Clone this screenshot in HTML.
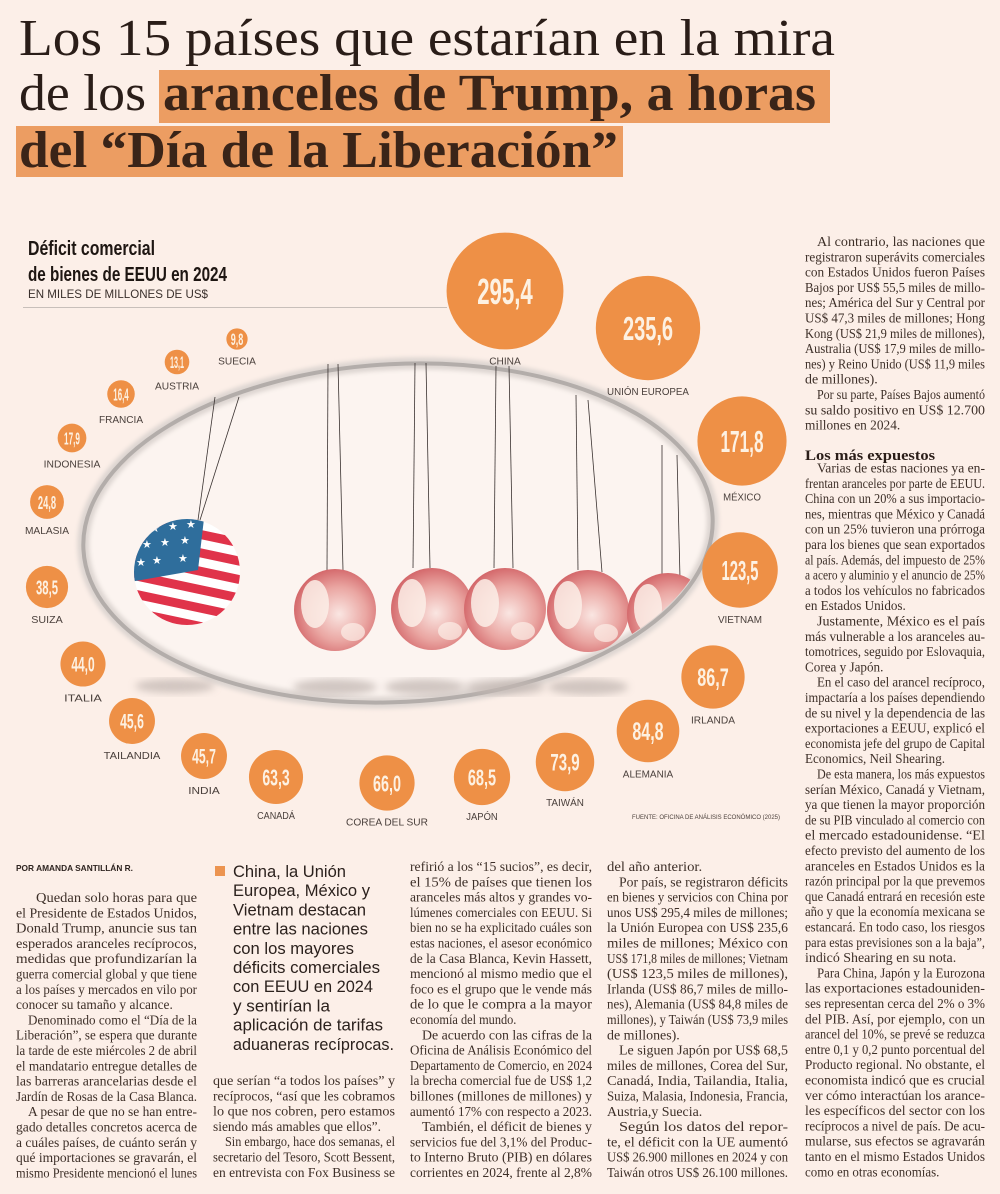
<!DOCTYPE html>
<html><head><meta charset="utf-8">
<style>
html,body{margin:0;padding:0;background:#fcefe8;}
svg{display:block;}
.ser{font-family:"Liberation Serif",serif;}
.san{font-family:"Liberation Sans",sans-serif;}
</style></head>
<body>
<svg id="page" xmlns="http://www.w3.org/2000/svg" width="1000" height="1194" viewBox="0 0 1000 1194">
<defs>
<radialGradient id="globeG" cx="0.55" cy="0.55" r="0.6">
<stop offset="0" stop-color="#fae6e2"/><stop offset="0.55" stop-color="#eaa6a2"/><stop offset="1" stop-color="#d05e62"/>
</radialGradient>
<filter id="blur6"><feGaussianBlur stdDeviation="4"/></filter>
<filter id="blur2"><feGaussianBlur stdDeviation="2"/></filter>
<clipPath id="flagClip"><circle cx="187" cy="572" r="53"/></clipPath>
<clipPath id="ellClip"><ellipse cx="398" cy="533" rx="312" ry="166" transform="rotate(-3 398 533)"/></clipPath>
</defs>
<rect width="1000" height="1194" fill="#fcefe8"/>

<g>
<rect x="159" y="70" width="671" height="53" fill="#ec9d62"/>
<rect x="16" y="126" width="607" height="51" fill="#ec9d62"/>
<text class="ser" x="19" y="55" font-size="52" fill="#2a1d18" textLength="816" lengthAdjust="spacingAndGlyphs">Los 15 países que estarían en la mira</text>
<text class="ser" x="19" y="110" font-size="52" fill="#2a1d18" textLength="127" lengthAdjust="spacingAndGlyphs">de los</text>
<text class="ser" x="163" y="110" font-size="52" font-weight="bold" fill="#3a2418" textLength="653" lengthAdjust="spacingAndGlyphs">aranceles de Trump, a horas</text>
<text class="ser" x="19" y="167" font-size="52" font-weight="bold" fill="#3a2418" textLength="599" lengthAdjust="spacingAndGlyphs">del “Día de la Liberación”</text>
</g>

<g>
<text class="san" x="28" y="255" font-size="20" font-weight="bold" fill="#1e1612" textLength="127" lengthAdjust="spacingAndGlyphs">Déficit comercial</text>
<text class="san" x="28" y="281" font-size="20" font-weight="bold" fill="#1e1612" textLength="199" lengthAdjust="spacingAndGlyphs">de bienes de EEUU en 2024</text>
<text class="san" x="28" y="298" font-size="12" fill="#3a302c" textLength="180" lengthAdjust="spacingAndGlyphs">EN MILES DE MILLONES DE US$</text>
<line x1="23" y1="307.5" x2="447" y2="307.5" stroke="#c8bfba" stroke-width="1"/>
</g>

<g id="illus">
<ellipse cx="398" cy="533" rx="315" ry="169" transform="rotate(-3 398 533)" fill="#fcf4f0" stroke="#ddd5d1" stroke-width="12" filter="url(#blur2)"/>
<ellipse cx="398" cy="533" rx="315" ry="169" transform="rotate(-3 398 533)" fill="none" stroke="#b3adaa" stroke-width="4"/>
<g filter="url(#blur6)" fill="#c2b7b2" opacity="0.75">
<ellipse cx="175" cy="686" rx="40" ry="7"/><ellipse cx="335" cy="687" rx="42" ry="8"/><ellipse cx="425" cy="687" rx="40" ry="8"/><ellipse cx="505" cy="687" rx="40" ry="8"/><ellipse cx="588" cy="687" rx="40" ry="8"/>
</g>
<g stroke="#3a3230" stroke-width="0.8">
<line x1="215" y1="397" x2="198" y2="520"/><line x1="239" y1="397" x2="200" y2="520"/>
<line x1="328" y1="364" x2="327" y2="570"/><line x1="338" y1="364" x2="343" y2="570"/>
<line x1="415" y1="363" x2="413" y2="568"/><line x1="426" y1="363" x2="430" y2="568"/>
<line x1="496" y1="366" x2="494" y2="568"/><line x1="509" y1="366" x2="513" y2="568"/>
<line x1="576" y1="395" x2="578" y2="570"/><line x1="588" y1="400" x2="602" y2="572"/>
<line x1="662" y1="445" x2="662" y2="575"/><line x1="677" y1="455" x2="680" y2="578"/>
</g>
<g id="globes" clip-path="url(#ellClip)"></g>
<g clip-path="url(#flagClip)">
<circle cx="187" cy="572" r="53" fill="#fff"/>
<g transform="rotate(12 187 572)" fill="#e0334a">
<rect x="120" y="510" width="140" height="9"/><rect x="120" y="528" width="140" height="9"/><rect x="120" y="546" width="140" height="9"/><rect x="120" y="564" width="140" height="9"/><rect x="120" y="582" width="140" height="9"/><rect x="120" y="600" width="140" height="9"/><rect x="120" y="618" width="140" height="9"/>
</g>
<path d="M130 515 L205 510 L198 570 L130 582 Z" fill="#2f6e9c"/>
<g fill="#fff" font-size="11" class="san">
<text x="150" y="532">★</text><text x="168" y="530">★</text><text x="186" y="528">★</text><text x="142" y="548">★</text><text x="160" y="546">★</text><text x="180" y="544">★</text><text x="152" y="564">★</text><text x="178" y="562">★</text><text x="136" y="566">★</text>
</g>
</g>
</g>

<g id="bubbles"></g>
<text class="san" x="632" y="819" font-size="6.5" fill="#4a3f3a" textLength="148" lengthAdjust="spacingAndGlyphs">FUENTE: OFICINA DE ANÁLISIS ECONÓMICO (2025)</text>

<text class="san" x="16" y="871" font-size="8.5" font-weight="bold" fill="#2e2420" textLength="117" lengthAdjust="spacingAndGlyphs">POR AMANDA SANTILLÁN R.</text>
<rect x="215" y="866" width="10" height="10" fill="#ec9450"/>
<g id="pull"></g>
<g id="textcols"></g>
<text class="ser" x="805" y="460" font-size="15" font-weight="bold" fill="#2a1d18" textLength="130" lengthAdjust="spacingAndGlyphs">Los más expuestos</text>
</svg>

<script>
// ---- chart data ----
const countries = ["SUECIA","AUSTRIA","FRANCIA","INDONESIA","MALASIA","SUIZA","ITALIA","TAILANDIA","INDIA","CANADÁ","COREA DEL SUR","JAPÓN","TAIWÁN","ALEMANIA","IRLANDA","VIETNAM","MÉXICO","UNIÓN EUROPEA","CHINA"];
const deficits = [9.8,13.1,16.4,17.9,24.8,38.5,44.0,45.6,45.7,63.3,66.0,68.5,73.9,84.8,86.7,123.5,171.8,235.6,295.4];
const valueLabels = ["9,8","13,1","16,4","17,9","24,8","38,5","44,0","45,6","45,7","63,3","66,0","68,5","73,9","84,8","86,7","123,5","171,8","235,6","295,4"];
// layout anchors (positions around the ring, not data)
const anchorX = [237,177,121,72,47,47,83,132,204,276,387,482,565,648,713,740,742,648,505];
const anchorY = [339,362,394,438,502,587,664,721,756,777,783,777,762,731,677,570,441,328,291];

const NS = "http://www.w3.org/2000/svg";
function rScale(v){ return 3.4*Math.sqrt(v); }
const bub = document.getElementById('bubbles');
for(let i=0;i<countries.length;i++){
  const r = rScale(deficits[i]);
  const digitH = 0.3*r+8.5;
  const g = document.createElementNS(NS,'g');
  
  
  const c = document.createElementNS(NS,'circle');
  c.setAttribute('cx',anchorX[i]); c.setAttribute('cy',anchorY[i]); c.setAttribute('r',r);
  c.setAttribute('fill','#ee9046');
  
  
  g.appendChild(c);
  const t = document.createElementNS(NS,'text');
  t.setAttribute('x',anchorX[i]); t.setAttribute('y',(anchorY[i]+digitH/2).toFixed(1));
  t.setAttribute('text-anchor','middle');
  t.setAttribute('class','san');
  t.setAttribute('font-weight','bold');
  t.setAttribute('font-size',(digitH/0.72).toFixed(1));
  t.setAttribute('fill','#fdf1e2');
  t.setAttribute('textLength',(0.9*r+3).toFixed(1));
  t.setAttribute('lengthAdjust','spacingAndGlyphs');
  t.textContent = valueLabels[i];
  
  
  g.appendChild(t);
  const l = document.createElementNS(NS,'text');
  l.setAttribute('x',anchorX[i]); l.setAttribute('y',anchorY[i]+r+15);
  l.setAttribute('text-anchor','middle');
  l.setAttribute('class','san');
  l.setAttribute('font-size','10.5');
  l.setAttribute('fill','#4a403c');
  l.setAttribute('textLength',(countries[i].length*6.3).toFixed(1));
  l.setAttribute('lengthAdjust','spacingAndGlyphs');
  l.textContent = countries[i];
  
  
  g.appendChild(l);
  bub.appendChild(g);
}

// globes
const globeX=[335,432,505,588,668], globeY=[610,609,609,611,614];
const gg=document.getElementById('globes');
for(let i=0;i<globeX.length;i++){
  const c=document.createElementNS(NS,'circle');
  c.setAttribute('cx',globeX[i]); c.setAttribute('cy',globeY[i]); c.setAttribute('r',41);
  c.setAttribute('fill','url(#globeG)');
  
  
  gg.appendChild(c);
  const w=document.createElementNS(NS,'ellipse');
  w.setAttribute('cx',globeX[i]-20); w.setAttribute('cy',globeY[i]-6); w.setAttribute('rx',14); w.setAttribute('ry',24);
  w.setAttribute('fill','#fcefe8'); w.setAttribute('opacity','0.85');
  
  
  gg.appendChild(w);
  const w2=document.createElementNS(NS,'ellipse');
  w2.setAttribute('cx',globeX[i]+18); w2.setAttribute('cy',globeY[i]+22); w2.setAttribute('rx',12); w2.setAttribute('ry',9);
  w2.setAttribute('fill','#fcefe8'); w2.setAttribute('opacity','0.7');
  
  
  gg.appendChild(w2);
}

// pull quote
const pullLines=["China, la Unión","Europea, México y","Vietnam destacan","entre las naciones","con los mayores","déficits comerciales","con EEUU en 2024","y sentirían la","aplicación de tarifas","aduaneras recíprocas."];
const pullW=[113,137,133,135,121,147,140,97,150,161];
const pg=document.getElementById('pull');
pullLines.forEach((s,i)=>{
  const t=document.createElementNS(NS,'text');
  t.setAttribute('x',233); t.setAttribute('y',877+19.2*i);
  t.setAttribute('class','san'); t.setAttribute('font-size','17'); t.setAttribute('fill','#2b211d');
  t.setAttribute('textLength',pullW[i]); t.setAttribute('lengthAdjust','spacingAndGlyphs');
  t.textContent=s;
  
  
  pg.appendChild(t);
});

const cols=[
 {x:16,w:181,y:902,lines:[">Quedan solo horas para que","el Presidente de Estados Unidos,","Donald Trump, anuncie sus tan","esperados aranceles recíprocos,","medidas que profundizarían la","guerra comercial global y que tiene","a los países y mercados en vilo por","conocer su tamaño y alcance.|",">Denominado como el “Día de la","Liberación”, se espera que durante","la tarde de este miércoles 2 de abril","el mandatario entregue detalles de","las barreras arancelarias desde el","Jardín de Rosas de la Casa Blanca.",">A pesar de que no se han entre-","gado detalles concretos acerca de","a cuáles países, de cuánto serán y","qué importaciones se gravarán, el","mismo Presidente mencionó el lunes"]},
 {x:213,w:182,y:1085,lines:["que serían “a todos los países” y","recíprocos, “así que les cobramos","lo que nos cobren, pero estamos","siendo más amables que ellos”.|",">Sin embargo, hace dos semanas, el","secretario del Tesoro, Scott Bessent,","en entrevista con Fox Business se"]},
 {x:410,w:182,y:871,lines:["refirió a los “15 sucios”, es decir,","el 15% de países que tienen los","aranceles más altos y grandes vo-","lúmenes comerciales con EEUU. Si","bien no se ha explicitado cuáles son","estas naciones, el asesor económico","de la Casa Blanca, Kevin Hassett,","mencionó al mismo medio que el","foco es el grupo que le vende más","de lo que le compra a la mayor","economía del mundo.|",">De acuerdo con las cifras de la","Oficina de Análisis Económico del","Departamento de Comercio, en 2024","la brecha comercial fue de US$ 1,2","billones (millones de millones) y","aumentó 17% con respecto a 2023.",">También, el déficit de bienes y","servicios fue del 3,1% del Produc-","to Interno Bruto (PIB) en dólares","corrientes en 2024, frente al 2,8%"]},
 {x:607,w:181,y:871,lines:["del año anterior.|",">Por país, se registraron déficits","en bienes y servicios con China por","unos US$ 295,4 miles de millones;","la Unión Europea con US$ 235,6","miles de millones; México con","US$ 171,8 miles de millones; Vietnam","(US$ 123,5 miles de millones),","Irlanda (US$ 86,7 miles de millo-","nes), Alemania (US$ 84,8 miles de","millones), y Taiwán (US$ 73,9 miles","de millones).|",">Le siguen Japón por US$ 68,5","miles de millones, Corea del Sur,","Canadá, India, Tailandia, Italia,","Suiza, Malasia, Indonesia, Francia,","Austria,y Suecia.|",">Según los datos del repor-","te, el déficit con la UE aumentó","US$ 26.900 millones en 2024 y con","Taiwán otros US$ 26.100 millones."]},
 {x:805,w:180,y:246,lines:[">Al contrario, las naciones que","registraron superávits comerciales","con Estados Unidos fueron Países","Bajos por US$ 55,5 miles de millo-","nes; América del Sur y Central por","US$ 47,3 miles de millones; Hong","Kong (US$ 21,9 miles de millones),","Australia (US$ 17,9 miles de millo-","nes) y Reino Unido (US$ 11,9 miles","de millones).|",">Por su parte, Países Bajos aumentó","su saldo positivo en US$ 12.700","millones en 2024.|"]},
 {x:805,w:180,y:472.5,lines:[">Varias de estas naciones ya en-","frentan aranceles por parte de EEUU.","China con un 20% a sus importacio-","nes, mientras que México y Canadá","con un 25% tuvieron una prórroga","para los bienes que sean exportados","al país. Además, del impuesto de 25%","a acero y aluminio y el anuncio de 25%","a todos los vehículos no fabricados","en Estados Unidos.|",">Justamente, México es el país","más vulnerable a los aranceles au-","tomotrices, seguido por Eslovaquia,","Corea y Japón.|",">En el caso del arancel recíproco,","impactaría a los países dependiendo","de su nivel y la dependencia de las","exportaciones a EEUU, explicó el","economista jefe del grupo de Capital","Economics, Neil Shearing.|",">De esta manera, los más expuestos","serían México, Canadá y Vietnam,","ya que tienen la mayor proporción","de su PIB vinculado al comercio con","el mercado estadounidense. “El","efecto previsto del aumento de los","aranceles en Estados Unidos es la","razón principal por la que prevemos","que Canadá entrará en recesión este","año y que la economía mexicana se","estancará. En todo caso, los riesgos","para estas previsiones son a la baja”,","indicó Shearing en su nota.|",">Para China, Japón y la Eurozona","las exportaciones estadouniden-","ses representan cerca del 2% o 3%","del PIB. Así, por ejemplo, con un","arancel del 10%, se prevé se reduzca","entre 0,1 y 0,2 punto porcentual del","Producto regional. No obstante, el","economista indicó que es crucial","ver cómo interactúan los arance-","les específicos del sector con los","recíprocos a nivel de país. De acu-","mularse, sus efectos se agravarán","tanto en el mismo Estados Unidos","como en otras economías.|"]}
];
const tc=document.getElementById('textcols');
cols.forEach((col,ci)=>{
  col.lines.forEach((raw,i)=>{
    let s=raw, ind=0, just=true;
    if(s.startsWith('>')){ s=s.slice(1); ind=(ci===0&&i===0)?20:12; }
    if(s.endsWith('|')){ s=s.slice(0,-1); just=false; }
    const t=document.createElementNS(NS,'text');
    t.setAttribute('x',col.x+ind); t.setAttribute('y',(col.y+15.3*i).toFixed(1));
    t.setAttribute('class','ser'); t.setAttribute('font-size','13.5'); t.setAttribute('fill','#3d2f28');
    const L = just ? (col.w-ind) : Math.min(col.w-ind, s.length*5.6);
    t.setAttribute('textLength',L.toFixed(1));
    t.setAttribute('lengthAdjust','spacingAndGlyphs');
    t.textContent=s;
    
    
    tc.appendChild(t);
  });
});
</script>
</body></html>
